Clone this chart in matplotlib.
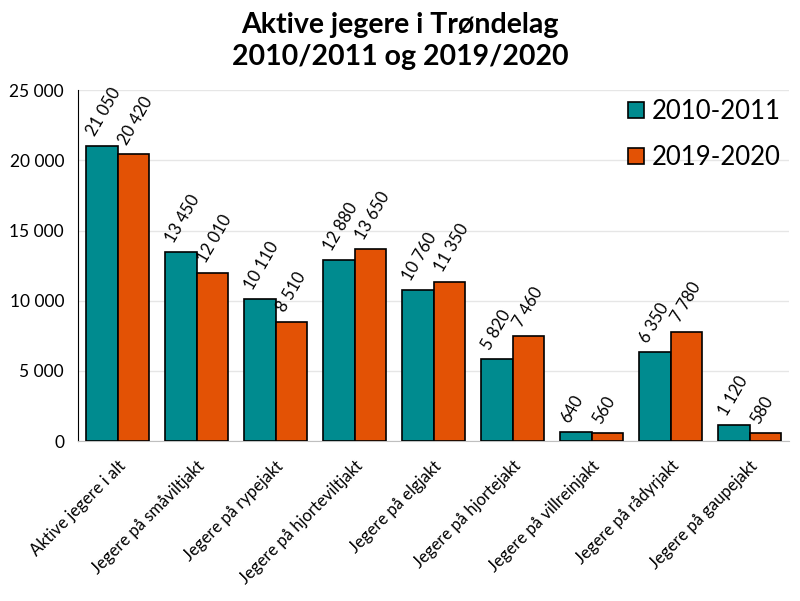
import numpy as np
import matplotlib
matplotlib.use('Agg')
import matplotlib.pyplot as plt
from matplotlib.ticker import FuncFormatter

categories = ['Aktive jegere i alt', 'Jegere på småviltjakt', 'Jegere på rypejakt',
              'Jegere på hjorteviltjakt', 'Jegere på elgjakt', 'Jegere på hjortejakt',
              'Jegere på villreinjakt', 'Jegere på rådyrjakt', 'Jegere på gaupejakt']
s2010 = [21050, 13450, 10110, 12880, 10760, 5820, 640, 6350, 1120]
s2019 = [20420, 12010, 8510, 13650, 11350, 7460, 560, 7780, 580]
series_names = ['2010-2011', '2019-2020']

plt.rcParams['font.family'] = ['Lato', 'DejaVu Sans']

def fmt(v, pos=None):
    return f'{int(v):,}'.replace(',', ' ')

fig = plt.figure(figsize=(8, 6.01), dpi=100)
ax = fig.add_axes([0.0975, 0.266, 0.889, 0.584])

x = np.arange(len(categories))
w = 0.4
teal = '#008B8F'
orange = '#E35205'
b1 = ax.bar(x - w/2, s2010, w, color=teal, edgecolor='black', linewidth=1.2, label=series_names[0], zorder=3)
b2 = ax.bar(x + w/2, s2019, w, color=orange, edgecolor='black', linewidth=1.2, label=series_names[1], zorder=3)

for bars, vals in ((b1, s2010), (b2, s2019)):
    for b, v in zip(bars, vals):
        ax.annotate(fmt(v), (b.get_x() + b.get_width()/2, v), xytext=(-3, 5),
                    textcoords='offset points', rotation=60, ha='left', va='bottom',
                    rotation_mode='anchor', fontsize=12)

ax.set_xlim(-0.5, len(categories) - 0.5)
ax.set_ylim(0, 25000)
ax.set_yticks(np.arange(0, 25001, 5000))
ax.yaxis.set_major_formatter(FuncFormatter(fmt))
ax.set_xticks(x)
ax.set_xticklabels(categories, rotation=45, ha='right', rotation_mode='anchor', fontsize=12)
ax.tick_params(axis='both', length=0)
ax.tick_params(axis='y', labelsize=12.5, pad=10)
ax.tick_params(axis='x', pad=12)
ax.grid(axis='y', color='#e6e6e6', linewidth=1, zorder=0)
for s in ['top', 'right']:
    ax.spines[s].set_visible(False)
ax.spines['left'].set_color('black')
ax.spines['bottom'].set_color('#bfbfbf')

ax.legend(loc='upper right', bbox_to_anchor=(1.02, 1.04), frameon=False, fontsize=18.5,
          handlelength=0.6, handleheight=0.6, handletextpad=0.3, labelspacing=0.8)

fig.suptitle('Aktive jegere i Trøndelag\n2010/2011 og 2019/2020', fontsize=20.5,
             fontweight='bold', y=0.98, linespacing=1.3)

fig.savefig('out.png', dpi=100)
